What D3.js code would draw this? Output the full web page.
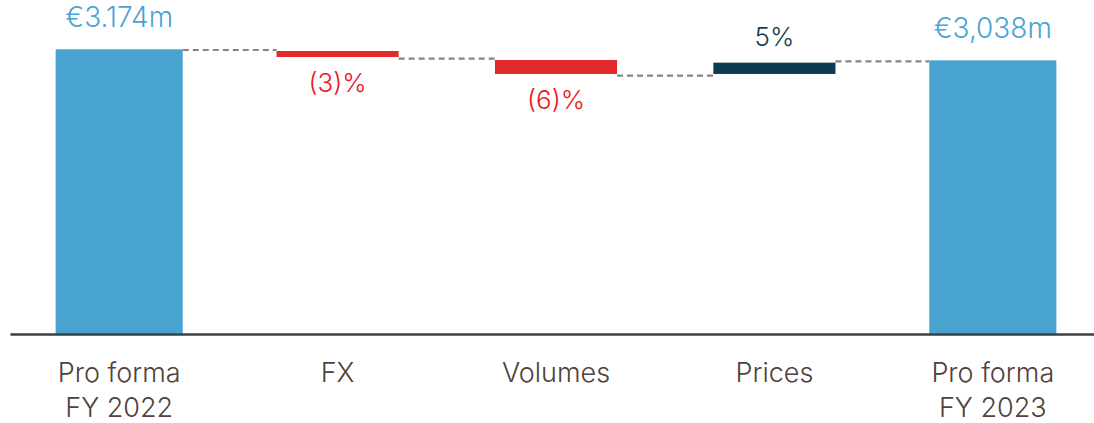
<!DOCTYPE html>
<html>
<head>
<meta charset="utf-8">
<script src="https://cdn.jsdelivr.net/npm/d3@7"></script>
<style>
  body { margin: 0; background: #fff; }
  svg text { font-family: Inter, "Open Sans", sans-serif; font-weight: 300; }
  .cat-label { fill: #4f413b; font-size: 27px; }
  .connector { stroke: #858585; stroke-width: 2.2; stroke-dasharray: 6,4; fill: none; }
</style>
</head>
<body>
<div id="chart"></div>
<script>
// categories and the values (EUR m)
var categories = ["Pro forma FY 2022", "FX", "Volumes", "Prices", "Pro forma FY 2023"];
var categoryLines = [["Pro forma", "FY 2022"], ["FX"], ["Volumes"], ["Prices"], ["Pro forma", "FY 2023"]];
var barKind = ["total", "down", "down", "up", "total"];
var barLow = [0, 3088, 2899, 2899, 0];
var barHigh = [3174, 3155, 3055, 3025, 3051];
var valueLabels = ["€3.174m", "(3)%", "(6)%", "5%", "€3,038m"];
// dashed bridge levels between consecutive bars
var connectorLevels = [3166, 3069, 2880, 3040];

var colors = { total: "#48a3cf", down: "#e32a2a", up: "#0c3b53" };
var labelColors = { total: "#4aa4d2", down: "#f2141a", up: "#143d56" };

var width = 1094, height = 423;
var svg = d3.select("#chart").append("svg")
    .attr("width", width)
    .attr("height", height);

// x: one band per step
var x = d3.scaleBand()
    .domain(categories)
    .range([10, 1102])
    .paddingInner(0.418)
    .paddingOuter(0.209);

var y = d3.scaleLinear()
    .domain([0, 3174])
    .range([334, 49.3]);

var rows = categories.map(function(c, i) {
  return { cat: c, kind: barKind[i], low: barLow[i], high: barHigh[i], label: valueLabels[i] };
});

function barX(d) {
  return d.kind === "total" ? x(d.cat) : x(d.cat) + 2.5;
}
function barW(d) {
  return d.kind === "total" ? x.bandwidth() : x.bandwidth() - 5;
}

// connectors
svg.append("g")
  .selectAll("line")
  .data(connectorLevels)
  .enter()
  .append("line")
    .attr("class", "connector")
    .attr("x1", function(d, i) { return barX(rows[i]) + barW(rows[i]); })
    .attr("x2", function(d, i) { return barX(rows[i + 1]); })
    .attr("y1", function(d) { return y(d); })
    .attr("y2", function(d) { return y(d); });

// bars
svg.append("g")
  .selectAll("rect")
  .data(rows)
  .enter()
  .append("rect")
    .attr("x", barX)
    .attr("width", barW)
    .attr("y", function(d) { return y(d.high); })
    .attr("height", function(d) { return y(d.low) - y(d.high); })
    .attr("fill", function(d) { return colors[d.kind]; });

// value labels
svg.append("g")
  .selectAll("text")
  .data(rows)
  .enter()
  .append("text")
    .attr("text-anchor", "middle")
    .attr("x", function(d) { return x(d.cat) + x.bandwidth() / 2; })
    .attr("y", function(d) {
      if (d.kind === "down") return y(d.low) + 35;
      if (d.kind === "up") return y(d.high) - 17;
      return y(d.high) - 22;
    })
    .attr("font-size", function(d) { return d.kind === "total" ? "28px" : "26px"; })
    .attr("fill", function(d) { return labelColors[d.kind]; })
    .text(function(d) { return d.label; });

// x axis: plain base line, labels drawn as two lines
var xAxis = svg.append("g")
    .attr("transform", "translate(0," + y(0) + ")")
    .call(d3.axisBottom(x).tickSize(0).tickSizeOuter(0).tickFormat(""));
xAxis.select(".domain")
    .attr("stroke", "#3a4047")
    .attr("stroke-width", 2.5);

xAxis.selectAll(".tick text").remove();
xAxis.selectAll(".tick")
  .append("text")
    .attr("class", "cat-label")
    .attr("text-anchor", "middle")
    .each(function(d, i) {
      var t = d3.select(this);
      categoryLines[i].forEach(function(line, j) {
        t.append("tspan")
          .attr("x", 0)
          .attr("y", 48 + j * 35)
          .text(line);
      });
    });
</script>
</body>
</html>
